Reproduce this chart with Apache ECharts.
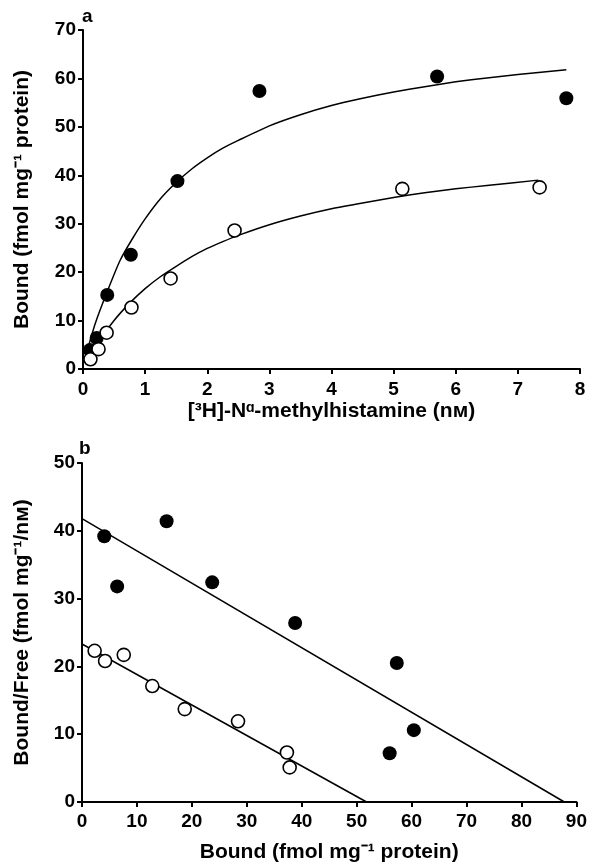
<!DOCTYPE html>
<html>
<head>
<meta charset="utf-8">
<script src="https://cdn.jsdelivr.net/npm/echarts@6/dist/echarts.min.js"></script>
<style>
  html, body { margin: 0; padding: 0; background: #fff; }
  #chart { width: 590px; height: 865px; }
</style>
</head>
<body>
<div id="chart"></div>
<script>
// panel a : saturation binding
var satFilled = [[0.11, 3.9], [0.22, 6.4], [0.39, 15.3], [0.77, 23.6], [1.52, 38.8], [2.84, 57.4], [5.70, 60.4], [7.78, 55.9]];
var satOpen = [[0.12, 2.0], [0.25, 4.1], [0.38, 7.5], [0.78, 12.7], [1.41, 18.7], [2.44, 28.6], [5.14, 37.2], [7.35, 37.5]];
// fitted curves as drawn in the figure
var curveFilled = [[0.05, 3], [0.2, 9.5], [0.4, 16.3], [0.6, 22.5], [0.8, 27], [1, 31], [1.25, 35.2], [1.5, 38.5], [1.75, 41.3], [2, 43.6], [2.25, 45.6], [2.5, 47.2], [3, 50.2], [3.5, 52.5], [4, 54.4], [4.5, 55.9], [5, 57.2], [5.5, 58.3], [6, 59.3], [6.5, 60.1], [7, 60.8], [7.78, 61.8]];
var curveOpen = [[0.07, 1.6], [0.25, 5.5], [0.5, 10], [0.75, 13.6], [1, 16.6], [1.25, 19.1], [1.5, 21.2], [1.75, 23.2], [2, 24.9], [2.25, 26.3], [2.5, 27.6], [3, 29.8], [3.5, 31.6], [4, 33.1], [4.5, 34.3], [5, 35.4], [5.5, 36.4], [6, 37.2], [6.5, 37.9], [7.33, 39]];

// panel b : Scatchard plot
var scatFilled = [[4.05, 39.2], [6.4, 31.8], [15.4, 41.4], [23.7, 32.4], [38.8, 26.4], [57.3, 20.5], [60.4, 10.6], [56.0, 7.2]];
var scatOpen = [[2.3, 22.3], [4.2, 20.8], [7.6, 21.7], [12.8, 17.1], [18.7, 13.7], [28.4, 11.9], [37.3, 7.3], [37.8, 5.1]];
var lineFilled = [[0, 41.8], [87.8, 0]];
var lineOpen = [[0, 23.3], [51.8, 0]];

var FONT = 'Liberation Sans';

function axisStyle(extra, labelMargin) {
    var base = {
        axisLine: { show: true, onZero: false, lineStyle: { color: '#000', width: 2 } },
        axisTick: { show: true, length: 5, lineStyle: { color: '#000', width: 2 } },
        axisLabel: { color: '#000', fontFamily: FONT, fontWeight: 'bold', fontSize: 19, margin: labelMargin },
        splitLine: { show: false },
        nameLocation: 'middle',
        nameTextStyle: { color: '#000', fontFamily: FONT, fontWeight: 'bold', fontSize: 21 }
    };
    for (var k in extra) base[k] = extra[k];
    return base;
}

var filledStyle = { color: '#000', opacity: 1 };
var openStyle = { color: '#fff', borderColor: '#000', borderWidth: 1.6, opacity: 1 };

var option = {
    animation: false,
    backgroundColor: '#fff',
    title: [
        { text: 'a', left: 77, top: 2, textStyle: { fontFamily: FONT, fontWeight: 'bold', fontSize: 19, color: '#000' } },
        { text: 'b', left: 74, top: 434, textStyle: { fontFamily: FONT, fontWeight: 'bold', fontSize: 19, color: '#000' } }
    ],
    grid: [
        { left: 83, top: 30, width: 497, height: 339 },
        { left: 82, top: 463, width: 496, height: 339 }
    ],
    xAxis: [
        axisStyle({ gridIndex: 0, type: 'value', min: 0, max: 8, interval: 1,
            name: '[³H]-Nᵅ-methylhistamine (nᴍ)', nameGap: 32 }, 11),
        axisStyle({ gridIndex: 1, type: 'value', min: 0, max: 90, interval: 10,
            name: 'Bound (fmol mg⁻¹ protein)', nameGap: 40 }, 10)
    ],
    yAxis: [
        axisStyle({ gridIndex: 0, type: 'value', min: 0, max: 70, interval: 10,
            name: 'Bound (fmol mg⁻¹ protein)', nameGap: 50 }, 7),
        axisStyle({ gridIndex: 1, type: 'value', min: 0, max: 50, interval: 10,
            name: 'Bound/Free (fmol mg⁻¹/nᴍ)', nameGap: 49 }, 7)
    ],
    series: [
        { type: 'line', xAxisIndex: 0, yAxisIndex: 0, data: curveFilled, smooth: 0.2, showSymbol: false,
          lineStyle: { color: '#000', width: 1.5 }, z: 2 },
        { type: 'line', xAxisIndex: 0, yAxisIndex: 0, data: curveOpen, smooth: 0.2, showSymbol: false,
          lineStyle: { color: '#000', width: 1.5 }, z: 2 },
        { type: 'scatter', xAxisIndex: 0, yAxisIndex: 0, data: satFilled, symbolSize: 14, itemStyle: filledStyle, z: 3 },
        { type: 'scatter', xAxisIndex: 0, yAxisIndex: 0, data: satOpen, symbolSize: 13, itemStyle: openStyle, z: 3 },

        { type: 'line', xAxisIndex: 1, yAxisIndex: 1, data: lineFilled, showSymbol: false,
          lineStyle: { color: '#000', width: 1.5 }, z: 2 },
        { type: 'line', xAxisIndex: 1, yAxisIndex: 1, data: lineOpen, showSymbol: false,
          lineStyle: { color: '#000', width: 1.5 }, z: 2 },
        { type: 'scatter', xAxisIndex: 1, yAxisIndex: 1, data: scatFilled, symbolSize: 14, itemStyle: filledStyle, z: 3 },
        { type: 'scatter', xAxisIndex: 1, yAxisIndex: 1, data: scatOpen, symbolSize: 13, itemStyle: openStyle, z: 3 }
    ]
};

var myChart = echarts.init(document.getElementById('chart'));
myChart.setOption(option);
</script>
</body>
</html>
